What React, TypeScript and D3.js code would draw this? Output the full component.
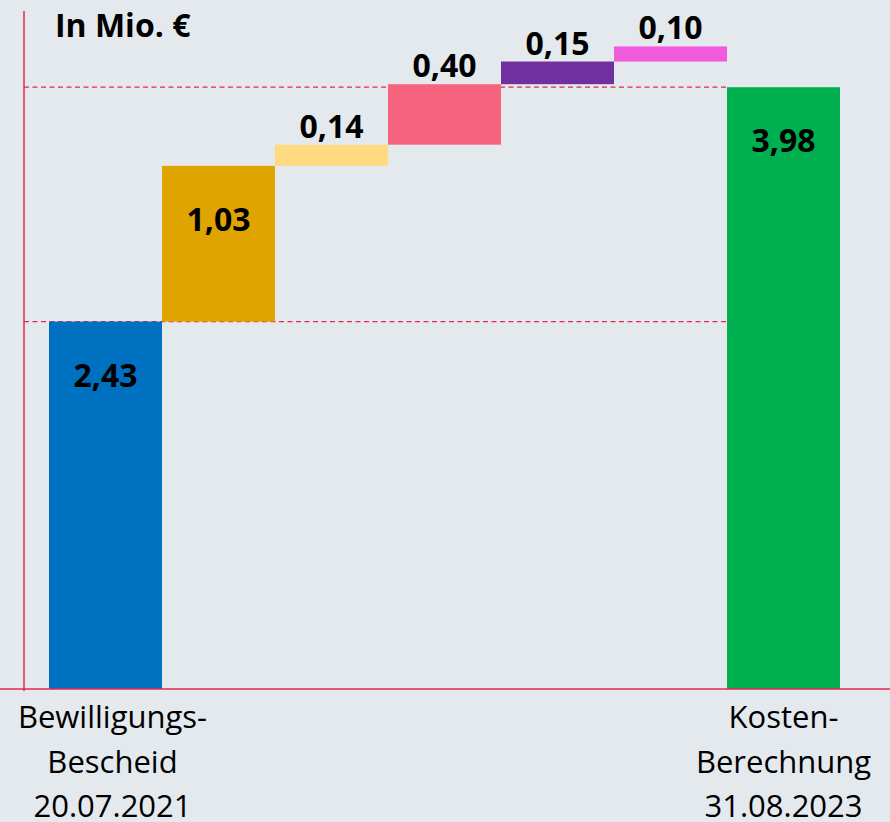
import React, { useEffect, useRef } from "react";
import * as d3 from "d3";

// Wasserfall: Bewilligung -> Kostenberechnung (in Mio. €)
const steps = ["start", "s1", "s2", "s3", "s4", "s5", "total"];
const values = [2.43, 1.03, 0.14, 0.4, 0.15, 0.1, 3.98];
const valueLabels = ["2,43", "1,03", "0,14", "0,40", "0,15", "0,10", "3,98"];
const colors = ["#0070C0", "#E0A400", "#FEDA80", "#F7637C", "#7030A0", "#F25BDD", "#00B050"];
const categoryLabels = [
  ["Bewilligungs-", "Bescheid", "20.07.2021"],
  [],
  [],
  [],
  [],
  [],
  ["Kosten-", "Berechnung", "31.08.2023"],
];
const unitLabel = "In Mio. €";

const W = 890;
const H = 822;

const App = () => {
  const ref = useRef<SVGSVGElement | null>(null);

  useEffect(() => {
    const svg = d3.select(ref.current);
    svg.selectAll("*").remove();

    const font = "'Open Sans', 'DejaVu Sans', sans-serif";
    const axisColor = "#E3284F";
    const baseY = 689;

    const x = d3.scaleBand<number>().domain(d3.range(steps.length)).range([49, 49 + 7 * 113]).padding(0);
    const y = d3.scaleLinear().domain([0, 4.5]).range([baseY, baseY - 4.5 * 151.2]);

    // running sum for the floating bars
    let acc = 0;
    const bars = values.map((v, i) => {
      const isEnd = i === 0 || i === values.length - 1;
      const from = isEnd ? 0 : acc;
      const to = isEnd ? v : acc + v;
      if (i < values.length - 1) acc = to;
      return { i, v, from, to, isEnd };
    });

    svg.append("rect").attr("width", W).attr("height", H).attr("fill", "#E4E9EE");

    // dashed reference lines
    const refVals = [values[0], values[values.length - 1]];
    svg
      .selectAll(".ref")
      .data(refVals)
      .enter()
      .append("line")
      .attr("x1", 24)
      .attr("x2", x(steps.length - 1)!)
      .attr("y1", (d) => y(d))
      .attr("y2", (d) => y(d))
      .attr("stroke", axisColor)
      .attr("stroke-width", 1.3)
      .attr("stroke-dasharray", "5,3.5");

    svg
      .selectAll(".bar")
      .data(bars)
      .enter()
      .append("rect")
      .attr("x", (d) => x(d.i)!)
      .attr("width", x.bandwidth())
      .attr("y", (d) => y(d.to))
      .attr("height", (d) => y(d.from) - y(d.to))
      .attr("fill", (d) => colors[d.i]);

    // axes
    svg.append("line").attr("x1", 24).attr("x2", 24).attr("y1", 11).attr("y2", 691)
      .attr("stroke", axisColor).attr("stroke-width", 1.5);
    svg.append("line").attr("x1", 0).attr("x2", W).attr("y1", baseY).attr("y2", baseY)
      .attr("stroke", axisColor).attr("stroke-width", 1.5);

    // value labels: inside the tall bars, above the small ones
    const inside = (d) => d.i <= 1 || d.isEnd;
    svg
      .selectAll(".val")
      .data(bars)
      .enter()
      .append("text")
      .attr("x", (d) => x(d.i)! + x.bandwidth() / 2)
      .attr("y", (d) => (inside(d) ? y(d.to) + 65 : y(d.to) - 7))
      .attr("text-anchor", "middle")
      .attr("font-family", font)
      .attr("font-weight", 700)
      .attr("font-size", 32)
      .attr("fill", "#000")
      .text((d) => valueLabels[d.i]);

    svg
      .append("text")
      .attr("x", 55)
      .attr("y", 37)
      .attr("font-family", font)
      .attr("font-weight", 700)
      .attr("font-size", 32)
      .attr("fill", "#000")
      .text(unitLabel);

    categoryLabels.forEach((lines, i) => {
      if (!lines.length) return;
      const cx = x(i)! + x.bandwidth() / 2 + (i === 0 ? 7 : 0);
      const t = svg
        .append("text")
        .attr("text-anchor", "middle")
        .attr("font-family", font)
        .attr("font-size", 31)
        .attr("fill", "#000");
      lines.forEach((line, j) => {
        t.append("tspan").attr("x", cx).attr("y", 728 + j * 44.5).text(line);
      });
    });
  }, []);

  return (
    <div>
      <svg ref={ref} width={W} height={H} style={{ position: "absolute", left: 0, top: 0, display: "block" }}></svg>
    </div>
  );
};

export default App;
